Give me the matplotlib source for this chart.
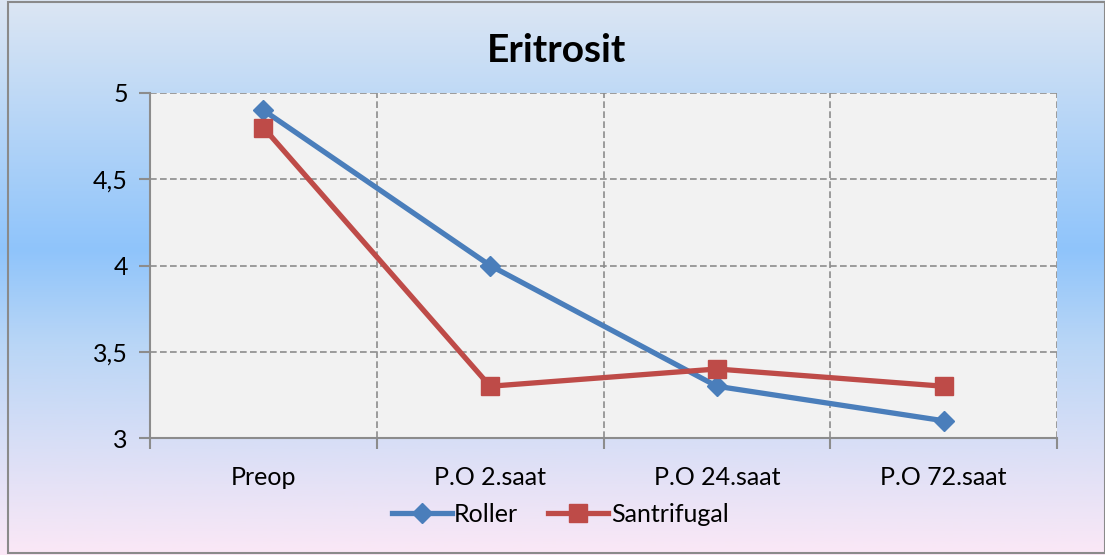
import numpy as np
import matplotlib
matplotlib.use('Agg')
import matplotlib.pyplot as plt
from matplotlib.colors import LinearSegmentedColormap
from matplotlib.patches import Rectangle

# data
categories = ['Preop', 'P.O 2.saat', 'P.O 24.saat', 'P.O 72.saat']
roller = [4.9, 4.0, 3.3, 3.1]
santrifugal = [4.8, 3.3, 3.4, 3.3]
y_ticks = [3, 3.5, 4, 4.5, 5]
y_labels = ['3', '3,5', '4', '4,5', '5']

plt.rcParams['font.family'] = ['Lato', 'DejaVu Sans']

fig = plt.figure(figsize=(11.05, 5.55), dpi=100)

# background gradient (light blue -> blue -> pink)
bg = fig.add_axes([0, 0, 1, 1], zorder=-10)
cmap = LinearSegmentedColormap.from_list('bg', [
    (0.0, '#dce6f3'), (0.45, '#8fc4fb'), (0.62, '#b9d6f6'), (1.0, '#fbe8f6')])
grad = np.linspace(0, 1, 256).reshape(-1, 1)
bg.imshow(grad, aspect='auto', cmap=cmap, extent=[0, 1, 0, 1])
bg.add_patch(Rectangle((8 / 1105, 2 / 555), 1 - 8 / 1105, 1 - 4 / 555, fill=False,
                       edgecolor='#8a8a8a', lw=1.5, transform=bg.transAxes))
bg.set_xlim(0, 1)
bg.set_ylim(0, 1)
bg.axis('off')

ax = fig.add_axes([150 / 1105, 1 - 438 / 555, 907 / 1105, 345 / 555])
ax.set_facecolor('#f2f2f2')

x = np.arange(len(categories))
ax.plot(x, roller, color='#4a7ebb', lw=3.8, marker='D', ms=10.5, label='Roller', zorder=3)
ax.plot(x, santrifugal, color='#be4b48', lw=3.8, marker='s', ms=13, label='Santrifugal', zorder=3)

ax.set_xlim(-0.5, len(categories) - 0.5)
ax.set_ylim(3, 5)

# gridlines
for yv in y_ticks[1:]:
    ax.axhline(yv, color='#8c8c8c', lw=1.2, ls=(0, (4, 2)), zorder=1)
for xv in np.arange(0.5, len(categories), 1.0):
    ax.axvline(xv, color='#8c8c8c', lw=1.2, ls=(0, (4, 2)), zorder=1)

for s in ['top', 'right']:
    ax.spines[s].set_visible(False)
for s in ['left', 'bottom']:
    ax.spines[s].set_color('#8c8c8c')
    ax.spines[s].set_linewidth(1.5)

ax.set_yticks(y_ticks)
ax.set_yticklabels(y_labels, fontsize=18)
ax.tick_params(axis='y', length=8, width=1.5, color='#8c8c8c', pad=8)

ax.set_xticks(np.arange(-0.5, len(categories), 1.0))
ax.set_xticklabels([])
ax.tick_params(axis='x', which='major', length=8, width=1.5, color='#8c8c8c')
ax.set_xticks(x, minor=True)
ax.set_xticklabels(categories, minor=True, fontsize=18)
ax.tick_params(axis='x', which='minor', length=0, pad=20)

fig.text(557 / 1105, 1 - 50 / 555, 'Eritrosit', ha='center', va='center',
         fontsize=28, fontweight='bold')

fig.legend(loc='center', bbox_to_anchor=(560 / 1105, 1 - 514 / 555), ncol=2,
           frameon=False, fontsize=18, handlelength=2.4, handletextpad=0.1,
           columnspacing=1.2)

fig.savefig('out.png', dpi=100)
